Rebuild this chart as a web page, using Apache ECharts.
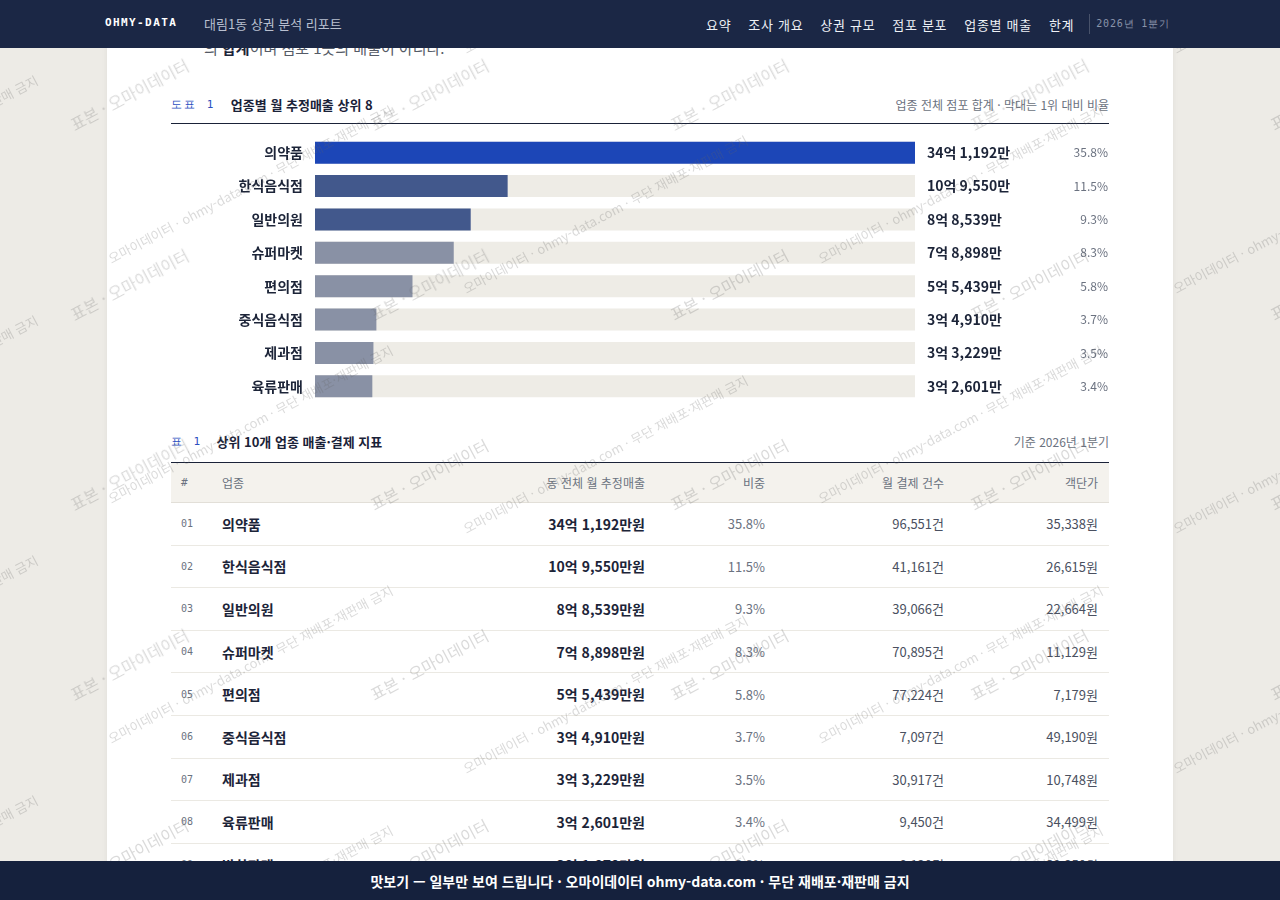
<!DOCTYPE html>
<html lang="ko">
<head>
<meta charset="utf-8">
<title>대림1동 상권 분석 리포트</title>
<script src="https://cdn.jsdelivr.net/npm/echarts@6/dist/echarts.min.js"></script>
<style>
  html, body { margin: 0; padding: 0; }
  body {
    width: 1280px; height: 900px; overflow: hidden; position: relative;
    background: #edebe6;
    font-family: "Noto Sans CJK KR", "Noto Sans", sans-serif;
    color: #1c2438;
  }
  .panel {
    position: absolute; left: 107px; top: 0; width: 1066px; height: 900px;
    background: #fff; box-shadow: 0 0 6px rgba(0,0,0,0.06);
  }
  .lead {
    position: absolute; left: 204px; top: 37px; font-size: 15px; color: #555b66;
    white-space: nowrap;
  }
  .lead b { color: #1c2438; }
  .nav {
    position: absolute; left: 0; top: 0; width: 1280px; height: 48px;
    background: #1b2745; z-index: 20;
  }
  .brand {
    position: absolute; left: 105px; top: 16px; font-family: "DejaVu Sans Mono", monospace;
    font-weight: bold; font-size: 11px; letter-spacing: 1.4px; color: #fff;
  }
  .doc { position: absolute; left: 204px; top: 14px; font-size: 13px; color: #b9c0d0; }
  .menu {
    position: absolute; left: 706px; top: 0; width: 467px; height: 48px; overflow: hidden;
    display: flex; align-items: center; white-space: nowrap;
  }
  .menu span { flex-shrink: 0; font-size: 13px; color: #eef1f6; margin-right: 17px; letter-spacing: 0.7px; }
  .menu .sep { width: 1px; height: 20px; background: rgba(255,255,255,0.2); margin: 0 6px 0 -2px; letter-spacing: 0; }
  .menu .q { font-family: "DejaVu Sans Mono", monospace; font-size: 10px; color: #8a94aa; margin: 0; letter-spacing: 0.8px; }
  .caption {
    position: absolute; left: 171px; width: 938px; height: 20px;
    display: flex; align-items: center; white-space: nowrap;
  }
  .caption .tag {
    font-family: "DejaVu Sans Mono", monospace; font-size: 11px; color: #2b4fbf;
    letter-spacing: 2.4px;
  }
  .caption .ttl { font-size: 13px; font-weight: bold; color: #1a2238; }
  .caption .note { margin-left: auto; font-size: 12px; color: #6b7280; }
  .rule { position: absolute; left: 171px; width: 938px; height: 1px; background: #1a2238; }
  #chart { position: absolute; left: 171px; top: 130px; width: 938px; height: 280px; }
  .tbl { position: absolute; left: 171px; top: 463px; width: 938px; }
  .row {
    display: grid; grid-template-columns: 51px 243px 180px 120px 179px 154px 11px;
    align-items: center; border-bottom: 1px solid #ebe9e3; height: 41.6px;
  }
  .row.head { background: #f4f2ed; height: 39px; border-bottom: 1px solid #e2dfd8; }
  .row.head div { font-size: 12px; color: #6b7280; }
  .row .n { padding-left: 10px; font-family: "DejaVu Sans Mono", monospace; font-size: 10px; color: #6b7280; }
  .row.head .n { font-family: "DejaVu Sans Mono", monospace; font-size: 11px; }
  .row .c { font-size: 14px; font-weight: 600; color: #1c2438; }
  .row .r { text-align: right; }
  .row .s { font-size: 14px; font-weight: bold; color: #1c2438; }
  .row .p { font-size: 13px; color: #6b7280; }
  .row .k { font-size: 13px; color: #4a5060; }
  .wm { position: absolute; left: 0; top: 0; width: 1280px; height: 900px; overflow: hidden; z-index: 10; pointer-events: none; }
  .wm span {
    position: absolute; white-space: nowrap; transform-origin: 0 100%;
    transform: rotate(-28deg); color: rgba(100,100,100,0.24); line-height: 1;
  }
  .foot {
    position: absolute; left: 0; top: 861px; width: 1280px; height: 39px;
    background: #15213d; color: #fff; font-size: 14px; font-weight: bold;
    display: flex; align-items: center; justify-content: center; z-index: 20;
  }
</style>
</head>
<body>
<div class="panel"></div>
<div class="lead">의 <b>합계</b>이며 점포 1곳의 매출이 아니다.</div>

<div class="nav">
  <div class="brand">OHMY-DATA</div>
  <div class="doc">대림1동 상권 분석 리포트</div>
  <div class="menu">
    <span>요약</span><span>조사 개요</span><span>상권 규모</span><span>점포 분포</span><span>업종별 매출</span><span>한계</span>
    <span class="sep"></span><span class="q">2026년 1분기</span>
  </div>
</div>

<div class="caption" style="top:94px">
  <span class="tag">도표 1</span><span class="ttl" style="margin-left:15px">업종별 월 추정매출 상위 8</span>
  <span class="note">업종 전체 점포 합계 · 막대는 1위 대비 비율</span>
</div>
<div class="rule" style="top:123px"></div>
<div id="chart"></div>

<div class="caption" style="top:431px">
  <span class="tag">표 1</span><span class="ttl" style="margin-left:14px">상위 10개 업종 매출·결제 지표</span>
  <span class="note">기준 2026년 1분기</span>
</div>
<div class="rule" style="top:462px"></div>
<div class="tbl" id="tbl"></div>

<div class="wm" id="wm"></div>
<div class="foot">맛보기 — 일부만 보여 드립니다 · 오마이데이터 ohmy-data.com · 무단 재배포·재판매 금지</div>

<script>
// 업종 (top 8 in the chart, 9th row only peeks out above the footer)
const categories = ['의약품', '한식음식점', '일반의원', '슈퍼마켓', '편의점', '중식음식점', '제과점', '육류판매', '반찬판매'];
// 월 추정매출, 만원 단위
const sales = [341192, 109550, 88539, 78898, 55439, 34910, 33229, 32601, 31870];
// 비중 %
const shares = [35.8, 11.5, 9.3, 8.3, 5.8, 3.7, 3.5, 3.4, 3.3];
// 월 결제 건수
const payments = [96551, 41161, 39066, 70895, 77224, 7097, 30917, 9450, 8120];
// 객단가, 원
const unitPrices = [35338, 26615, 22664, 11129, 7179, 49190, 10748, 34499, 39250];

const TOP_N = 8;

function fmtWon(v) {
  // 341192 (만원) -> "34억 1,192만"
  const eok = Math.floor(v / 10000);
  const man = v % 10000;
  return eok + '억 ' + man.toLocaleString('en-US') + '만';
}

function barColor(i) {
  if (i === 0) return '#1c46b7';
  if (i < 3) return '#42588c';
  return '#8991a5';
}

// chart
const chartCats = categories.slice(0, TOP_N);
const chartSales = sales.slice(0, TOP_N);
const valueLabels = chartSales.map(fmtWon);
const shareLabels = shares.slice(0, TOP_N).map(s => s.toFixed(1) + '%');

const myChart = echarts.init(document.getElementById('chart'));

const hidden = { axisLine: { show: false }, axisTick: { show: false }, splitLine: { show: false } };

myChart.setOption({
  animation: false,
  grid: { left: 144, right: 194, top: 6, bottom: 7, containLabel: false, outerBoundsMode: 'none' },
  xAxis: { type: 'value', min: 0, max: chartSales[0], show: false },
  yAxis: [
    Object.assign({
      type: 'category', inverse: true, data: chartCats,
      axisLabel: { margin: 12, fontSize: 14, fontWeight: 600, color: '#1c2438',
        fontFamily: 'Noto Sans CJK KR' }
    }, hidden),
    Object.assign({
      type: 'category', inverse: true, position: 'right', data: valueLabels,
      axisLabel: { margin: 12, align: 'left', fontSize: 14, fontWeight: 'bold', color: '#1c2438',
        fontFamily: 'Noto Sans CJK KR' }
    }, hidden),
    Object.assign({
      type: 'category', inverse: true, position: 'right', data: shareLabels,
      axisLabel: { margin: 193, align: 'right', fontSize: 12, color: '#6b7280',
        fontFamily: 'Noto Sans CJK KR' }
    }, hidden)
  ],
  series: [{
    type: 'bar',
    yAxisIndex: 0,
    barWidth: 22,
    showBackground: true,
    backgroundStyle: { color: '#eeece6' },
    itemStyle: { color: p => barColor(p.dataIndex) },
    data: chartSales
  }]
});

// table
const tbl = document.getElementById('tbl');
let html = '<div class="row head"><div class="n">#</div><div>업종</div><div class="r">동 전체 월 추정매출</div>' +
  '<div class="r">비중</div><div class="r">월 결제 건수</div><div class="r">객단가</div><div></div></div>';
categories.forEach((c, i) => {
  html += '<div class="row"><div class="n">' + String(i + 1).padStart(2, '0') + '</div>' +
    '<div class="c">' + c + '</div>' +
    '<div class="r s">' + fmtWon(sales[i]) + '원</div>' +
    '<div class="r p">' + shares[i].toFixed(1) + '%</div>' +
    '<div class="r k">' + payments[i].toLocaleString('en-US') + '건</div>' +
    '<div class="r k">' + unitPrices[i].toLocaleString('en-US') + '원</div><div></div></div>';
});
tbl.innerHTML = html;

// watermark layers
const wm = document.getElementById('wm');
function stamp(text, size, x, y) {
  const s = document.createElement('span');
  s.textContent = text;
  s.style.fontSize = size + 'px';
  s.style.left = x + 'px';
  s.style.top = (y - size) + 'px';
  wm.appendChild(s);
}
for (let i = -1; i < 5; i++) {
  for (let j = -1; j < 6; j++) {
    stamp('표본 · 오마이데이터', 16, 75 + 300 * i, 132 + 190 * j);
  }
}
for (let i = -1; i < 5; i++) {
  for (let j = -1; j < 5; j++) {
    stamp('오마이데이터 · ohmy-data.com · 무단 재배포·재판매 금지', 13, 112 + 355 * i, 265 + 240 * j + (i % 2) * 30);
  }
}
</script>
</body>
</html>
